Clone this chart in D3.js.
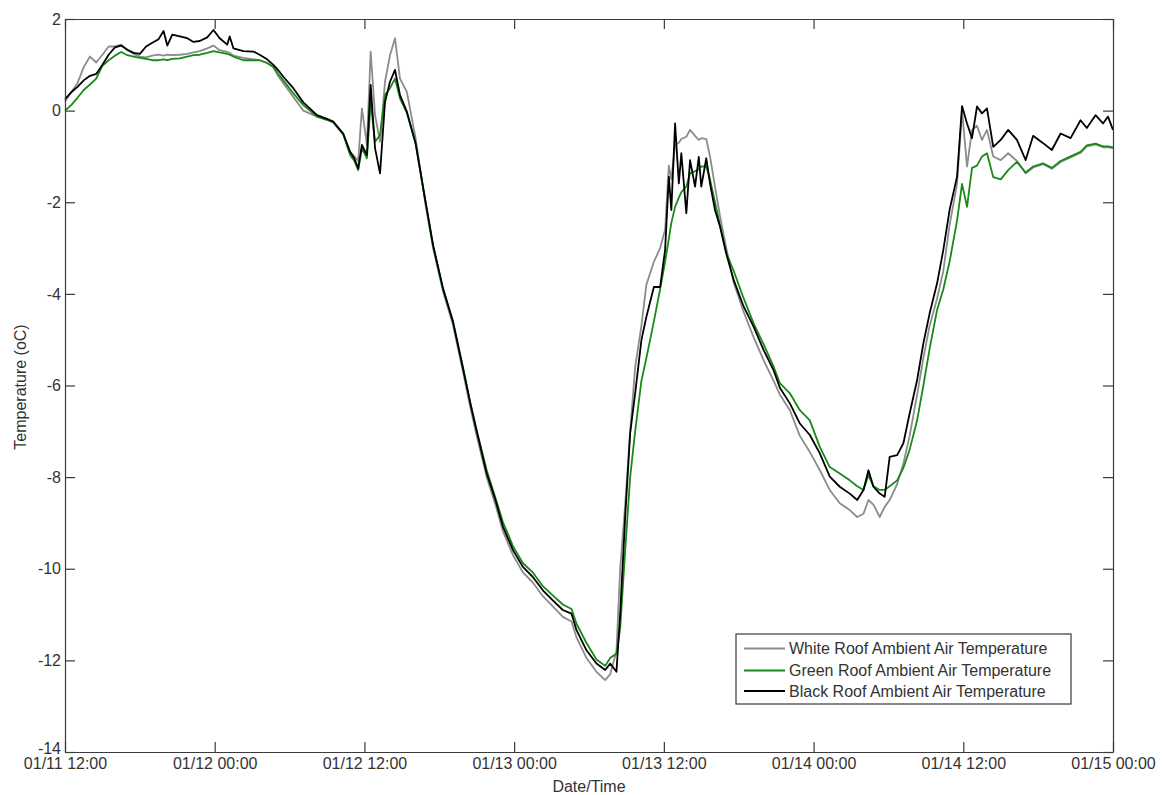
<!DOCTYPE html>
<html>
<head>
<meta charset="utf-8">
<script src="https://cdn.jsdelivr.net/npm/d3@7"></script>
<style>
  html, body { margin: 0; padding: 0; background: #fff; }
  svg { display: block; font-family: Arial, "Liberation Sans", Helvetica, sans-serif; }
</style>
</head>
<body>
<svg id="chart" width="1162" height="795"></svg>
<script>
// Hours elapsed since 01/11 12:00
const hours = [0,0.5,1,1.5,2,2.5,3,3.5,4,4.5,5,5.5,6,6.5,7,7.5,7.9,8.2,8.6,9.2,9.8,10.3,10.8,11.4,11.9,12.4,13.0,13.2,13.5,14.3,15.1,15.6,16.2,16.7,17.1,17.5,18.3,19.1,20.2,21.0,21.5,22.3,22.85,23.2,23.5,23.8,24.2,24.5,24.85,25.25,25.65,26.05,26.45,26.85,27.4,28.1,28.9,29.5,30.3,31.1,31.9,32.5,33.0,33.8,34.5,35.1,35.9,36.7,37.5,38.3,39.1,39.9,40.6,41.0,41.8,42.6,43.3,43.7,44.2,44.5,44.9,45.3,45.7,46.2,46.6,47.2,47.7,48.1,48.4,48.6,48.9,49.2,49.4,49.8,50.1,50.5,50.8,51.0,51.4,51.7,52.1,52.5,53.0,53.6,54.4,55.2,56.0,56.8,57.3,58.1,58.9,59.7,60.5,61.3,62.1,62.9,63.5,64.0,64.4,64.8,65.3,65.7,66.1,66.7,67.2,67.7,68.3,68.8,69.3,69.9,70.4,70.9,71.5,71.9,72.3,72.7,73.1,73.5,73.9,74.4,75.0,75.6,76.3,77.0,77.6,78.4,79.1,79.8,80.6,81.4,81.9,82.6,83.2,83.6,84.0];

const whiteRoof = [0.20,0.40,0.60,0.95,1.18,1.05,1.22,1.40,1.40,1.44,1.32,1.24,1.18,1.16,1.20,1.22,1.20,1.22,1.21,1.22,1.24,1.27,1.30,1.36,1.42,1.32,1.28,1.26,1.20,1.15,1.12,1.10,1.04,0.95,0.75,0.60,0.30,0.00,-0.13,-0.20,-0.25,-0.52,-0.90,-1.00,-1.10,0.05,-0.75,1.29,-0.10,-0.68,0.63,1.21,1.58,0.70,0.41,-0.60,-2.05,-3.00,-3.95,-4.68,-5.70,-6.50,-7.10,-8.00,-8.60,-9.18,-9.70,-10.08,-10.30,-10.60,-10.82,-11.05,-11.15,-11.50,-11.95,-12.25,-12.43,-12.30,-11.80,-10.00,-8.60,-7.00,-5.60,-4.70,-3.80,-3.30,-3.00,-2.60,-1.20,-1.50,-0.75,-0.70,-0.62,-0.57,-0.42,-0.55,-0.64,-0.60,-0.62,-1.00,-1.66,-2.30,-3.00,-3.75,-4.40,-4.95,-5.45,-5.90,-6.20,-6.54,-7.10,-7.45,-7.85,-8.28,-8.57,-8.72,-8.87,-8.80,-8.50,-8.60,-8.87,-8.65,-8.50,-8.15,-7.70,-7.10,-6.20,-5.40,-4.70,-4.10,-3.50,-2.50,-1.60,0.00,-1.22,-0.42,-0.33,-0.64,-0.42,-1.00,-1.08,-0.93,-1.10,-1.37,-1.24,-1.17,-1.27,-1.12,-1.02,-0.92,-0.78,-0.74,-0.80,-0.80,-0.82];

const greenRoof = [0.00,0.12,0.28,0.45,0.57,0.70,0.98,1.10,1.20,1.28,1.21,1.18,1.15,1.13,1.10,1.10,1.12,1.10,1.13,1.14,1.18,1.21,1.22,1.26,1.30,1.27,1.24,1.22,1.18,1.10,1.10,1.10,1.04,0.95,0.80,0.66,0.38,0.12,-0.13,-0.20,-0.26,-0.52,-0.97,-1.10,-1.30,-0.82,-1.04,0.19,-0.68,-0.53,0.34,0.49,0.70,0.27,-0.05,-0.72,-2.00,-2.95,-3.90,-4.60,-5.60,-6.40,-6.98,-7.85,-8.45,-8.98,-9.50,-9.88,-10.08,-10.38,-10.58,-10.78,-10.88,-11.20,-11.62,-11.98,-12.12,-11.95,-11.85,-11.30,-9.60,-8.00,-7.00,-5.90,-5.40,-4.60,-3.90,-3.30,-2.80,-2.45,-2.10,-1.90,-1.78,-1.66,-1.37,-1.32,-1.28,-1.22,-1.22,-1.50,-2.00,-2.50,-3.10,-3.50,-4.10,-4.65,-5.10,-5.59,-5.95,-6.17,-6.54,-6.76,-7.34,-7.78,-7.92,-8.07,-8.20,-8.28,-7.96,-8.20,-8.28,-8.28,-8.20,-8.07,-7.80,-7.40,-6.76,-6.00,-5.20,-4.35,-3.90,-3.30,-2.40,-1.60,-2.10,-1.25,-1.20,-1.00,-0.93,-1.45,-1.50,-1.30,-1.12,-1.35,-1.22,-1.15,-1.25,-1.10,-1.00,-0.90,-0.76,-0.72,-0.78,-0.78,-0.80];

const blackRoof = [0.25,0.40,0.52,0.66,0.76,0.80,1.00,1.22,1.38,1.42,1.33,1.26,1.24,1.40,1.48,1.56,1.74,1.42,1.66,1.62,1.58,1.50,1.52,1.60,1.76,1.58,1.44,1.62,1.36,1.30,1.29,1.22,1.12,1.00,0.88,0.74,0.49,0.18,-0.10,-0.18,-0.24,-0.50,-0.90,-1.05,-1.26,-0.75,-0.97,0.56,-0.82,-1.37,0.19,0.63,0.89,0.34,-0.02,-0.71,-1.99,-2.93,-3.88,-4.61,-5.63,-6.40,-7.00,-7.92,-8.50,-9.08,-9.59,-9.96,-10.18,-10.47,-10.69,-10.90,-10.98,-11.34,-11.78,-12.07,-12.21,-12.07,-12.25,-10.98,-8.87,-7.04,-6.17,-5.01,-4.50,-3.85,-3.85,-3.04,-1.44,-2.17,-0.28,-1.59,-0.93,-2.24,-1.08,-1.66,-1.01,-1.66,-1.04,-1.59,-2.17,-2.53,-3.12,-3.70,-4.28,-4.72,-5.23,-5.67,-6.05,-6.39,-6.83,-7.08,-7.48,-7.99,-8.21,-8.36,-8.50,-8.28,-7.85,-8.21,-8.36,-8.43,-7.56,-7.52,-7.26,-6.61,-5.88,-5.08,-4.43,-3.77,-3.04,-2.17,-1.44,0.10,-0.28,-0.60,0.09,-0.06,0.05,-0.79,-0.64,-0.42,-0.64,-1.08,-0.55,-0.71,-0.86,-0.50,-0.60,-0.21,-0.38,-0.10,-0.28,-0.13,-0.42];

const xTickHours = [0, 12, 24, 36, 48, 60, 72, 84];
const xTickLabels = ["01/11 12:00", "01/12 00:00", "01/12 12:00", "01/13 00:00", "01/13 12:00", "01/14 00:00", "01/14 12:00", "01/15 00:00"];
const yTicks = [-14, -12, -10, -8, -6, -4, -2, 0, 2];

const seriesNames = ["White Roof Ambient Air Temperature", "Green Roof Ambient Air Temperature", "Black Roof Ambient Air Temperature"];
const seriesColors = ["#8c8c8c", "#178a17", "#000000"];
const seriesValues = [whiteRoof, greenRoof, blackRoof];

const svg = d3.select("#chart");
const plotLeft = 65, plotRight = 1113, plotTop = 19, plotBottom = 752;
const x = d3.scaleLinear().domain([0, 84]).range([plotLeft, plotRight]);
const y = d3.scaleLinear().domain([-14, 2]).range([plotBottom, plotTop]);

const axisColor = "#3a3a3a";
const textColor = "#333";
const fontSize = 16;

// Lines
const line = d3.line().x((d, i) => x(hours[i])).y(d => y(d));
seriesValues.forEach((vals, k) => {
  svg.append("path")
    .datum(vals)
    .attr("fill", "none")
    .attr("stroke", seriesColors[k])
    .attr("stroke-width", 1.8)
    .attr("stroke-linejoin", "round")
    .attr("d", line);
});

// Axes
const fmtX = (d) => xTickLabels[xTickHours.indexOf(d)];
const gB = svg.append("g").attr("transform", `translate(0,${plotBottom})`)
  .call(d3.axisBottom(x).tickValues(xTickHours).tickFormat(fmtX).tickSizeInner(-10).tickSizeOuter(0).tickPadding(6));
const gL = svg.append("g").attr("transform", `translate(${plotLeft},0)`)
  .call(d3.axisLeft(y).tickValues(yTicks).tickFormat(d => String(d)).tickSizeInner(-10).tickSizeOuter(0).tickPadding(4));
const gT = svg.append("g").attr("transform", `translate(0,${plotTop})`)
  .call(d3.axisTop(x).tickValues(xTickHours).tickFormat("").tickSizeInner(-10).tickSizeOuter(0));
const gR = svg.append("g").attr("transform", `translate(${plotRight},0)`)
  .call(d3.axisRight(y).tickValues(yTicks).tickFormat("").tickSizeInner(-10).tickSizeOuter(0));

[gB, gL, gT, gR].forEach(g => {
  g.select(".domain").attr("stroke", axisColor).attr("stroke-width", 1.2);
  g.selectAll(".tick line").attr("stroke", axisColor).attr("stroke-width", 1.2);
  g.selectAll(".tick text").attr("fill", textColor).style("font-size", fontSize + "px")
    .style("font-family", "Arial, 'Liberation Sans', sans-serif");
});
// lift the bottom-most y label slightly so it sits just above the first date label
gL.selectAll(".tick").filter(d => d === -14).select("text").attr("y", -4);

// Axis labels
svg.append("text")
  .attr("transform", `translate(20,387) rotate(-90)`)
  .attr("text-anchor", "middle")
  .attr("dy", "0.35em")
  .attr("fill", textColor)
  .style("font-size", fontSize + "px")
  .text("Temperature (oC)");

svg.append("text")
  .attr("x", (plotLeft + plotRight) / 2)
  .attr("y", 792)
  .attr("text-anchor", "middle")
  .attr("fill", textColor)
  .style("font-size", fontSize + "px")
  .text("Date/Time");

// Legend
const lg = svg.append("g");
lg.append("rect")
  .attr("x", 736).attr("y", 634).attr("width", 335).attr("height", 70)
  .attr("fill", "#fff").attr("stroke", axisColor).attr("stroke-width", 1.2);
const rowY = [648.5, 670.5, 691];
seriesNames.forEach((name, k) => {
  lg.append("line")
    .attr("x1", 744).attr("x2", 785).attr("y1", rowY[k]).attr("y2", rowY[k])
    .attr("stroke", seriesColors[k]).attr("stroke-width", 1.8);
  lg.append("text")
    .attr("x", 789).attr("y", rowY[k]).attr("dy", "0.35em")
    .attr("fill", textColor)
    .style("font-size", fontSize + "px")
    .text(name);
});
</script>
</body>
</html>
